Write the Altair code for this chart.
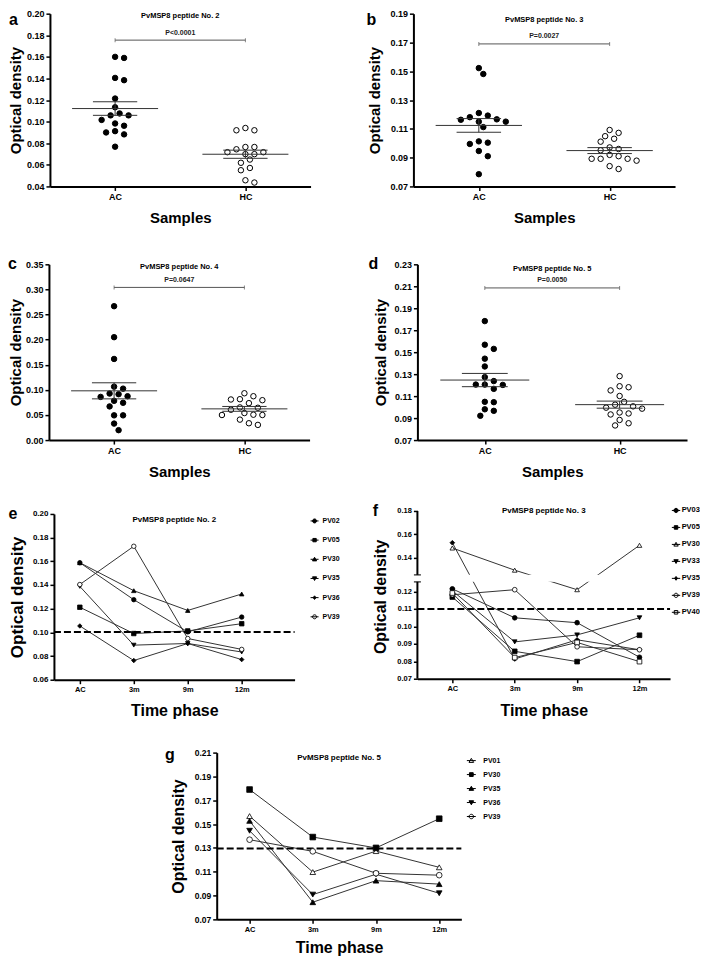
import altair as alt
import pandas as pd
import numpy as np

FONT = "Liberation Sans"

# ---------------- data ----------------
groups = ["AC", "HC"]
time_labels = ["AC", "3m", "9m", "12m"]

a_ac = [0.160, 0.159, 0.1405, 0.1384, 0.1214, 0.1133, 0.1076, 0.1058, 0.1058, 0.1016, 0.0983, 0.0962, 0.0912, 0.0900, 0.0882, 0.0768]
a_hc = [0.0941, 0.0920, 0.0920, 0.0765, 0.0744, 0.0765, 0.0717, 0.0699, 0.0699, 0.0717, 0.0649, 0.0619, 0.0571, 0.0550, 0.0457, 0.0436]
b_ac = [0.1522, 0.1481, 0.1210, 0.1192, 0.1181, 0.1166, 0.1163, 0.1150, 0.1150, 0.1112, 0.1013, 0.1004, 0.0995, 0.0946, 0.0910, 0.0785]
b_hc = [0.1092, 0.1072, 0.1049, 0.1031, 0.1011, 0.0971, 0.0960, 0.0951, 0.0919, 0.0910, 0.0892, 0.0892, 0.0892, 0.0879, 0.0841, 0.0821]
c_ac = [0.2666, 0.2049, 0.1615, 0.1064, 0.1024, 0.0926, 0.0913, 0.0873, 0.0860, 0.0781, 0.0742, 0.0670, 0.0492, 0.0492, 0.0328, 0.0197]
c_hc = [0.0932, 0.0873, 0.0814, 0.0808, 0.0794, 0.0735, 0.0650, 0.0643, 0.0604, 0.0538, 0.0505, 0.0499, 0.0499, 0.0407, 0.0335, 0.0302]
d_ac = [0.1783, 0.1568, 0.1530, 0.1441, 0.1370, 0.1273, 0.1237, 0.1205, 0.1205, 0.1202, 0.1166, 0.1048, 0.1045, 0.0980, 0.0966, 0.0921]
d_hc = [0.1282, 0.1190, 0.1181, 0.1152, 0.1101, 0.1048, 0.1022, 0.1007, 0.0995, 0.0986, 0.0951, 0.0942, 0.0933, 0.0883, 0.0853, 0.0833]

a_yticks = [0.04, 0.06, 0.08, 0.10, 0.12, 0.14, 0.16, 0.18, 0.20]
b_yticks = [0.07, 0.09, 0.11, 0.13, 0.15, 0.17, 0.19]
c_yticks = [0.00, 0.05, 0.10, 0.15, 0.20, 0.25, 0.30, 0.35]
d_yticks = [0.07, 0.09, 0.11, 0.13, 0.15, 0.17, 0.19, 0.21, 0.23]

bracket_levels = [0.1755, 0.169, 0.304, 0.2085]
p_texts = ["P<0.0001", "P=0.0027", "P=0.0647", "P=0.0050"]
peptide_titles = ["PvMSP8 peptide No. 2", "PvMSP8 peptide No. 3",
                  "PvMSP8 peptide No. 4", "PvMSP8 peptide No. 5"]

e_series = ["PV02", "PV05", "PV30", "PV35", "PV36", "PV39"]
e_values = [
    [0.1588, 0.1276, 0.1004, 0.1129],
    [0.1212, 0.0990, 0.1012, 0.1073],
    [0.1588, 0.1352, 0.1185, 0.1324],
    [0.1388, 0.0892, 0.0906, 0.0834],
    [0.1054, 0.0762, 0.0906, 0.0770],
    [0.1404, 0.1727, 0.0948, 0.0856],
]
e_shapes = ["circle", "square", "triangle-up", "triangle-down", "diamond", "circle"]
e_fills = ["black", "black", "black", "black", "black", "white"]
e_yticks = [0.06, 0.08, 0.10, 0.12, 0.14, 0.16, 0.18, 0.20]
e_cutoff = 0.1004

f_series = ["PV03", "PV05", "PV30", "PV33", "PV35", "PV39", "PV40"]
f_values = [
    [0.1215, 0.1049, 0.1021, 0.0823],
    [0.1168, 0.0857, 0.0798, 0.0949],
    [0.1484, 0.1295, 0.1210, 0.1507],
    [0.1204, 0.0911, 0.0951, 0.1049],
    [0.1529, 0.0813, 0.0923, 0.0866],
    [0.1181, 0.1210, 0.0883, 0.0866],
    [0.1191, 0.0821, 0.0908, 0.0798],
]
f_shapes = ["circle", "square", "triangle-up", "triangle-down", "diamond", "circle", "square"]
f_fills = ["black", "black", "white", "black", "black", "white", "white"]
f_yticks = [0.07, 0.08, 0.09, 0.10, 0.11, 0.12, 0.14, 0.16, 0.18]
f_cutoff = 0.11
f_break = [0.1255, 0.12551]

g_series = ["PV01", "PV30", "PV35", "PV36", "PV39"]
g_values = [
    [0.1567, 0.1097, 0.1273, 0.1137],
    [0.1790, 0.1391, 0.1300, 0.1545],
    [0.1527, 0.0844, 0.1025, 0.0996],
    [0.1444, 0.0908, 0.1079, 0.0919],
    [0.1369, 0.1271, 0.1087, 0.1071],
]
g_shapes = ["triangle-up", "square", "triangle-up", "triangle-down", "circle"]
g_fills = ["white", "black", "black", "black", "white"]
g_yticks = [0.07, 0.09, 0.11, 0.13, 0.15, 0.17, 0.19, 0.21]
g_cutoff = 0.1295

line_titles = ["PvMSP8 peptide No. 2", "PvMSP8 peptide No. 3", "PvMSP8 peptide No. 5"]

# legend symbols: marker with a short line through it
LEG_PATH = {
    "circle": "M-1,0L1,0M0.5,0A0.5,0.5,0,1,1,-0.5,0A0.5,0.5,0,1,1,0.5,0Z",
    "square": "M-1,0L1,0M-0.42,-0.42L0.42,-0.42L0.42,0.42L-0.42,0.42Z",
    "triangle-up": "M-1,0L1,0M0,-0.5L0.52,0.4L-0.52,0.4Z",
    "triangle-down": "M-1,0L1,0M0,0.5L0.52,-0.4L-0.52,-0.4Z",
    "diamond": "M-1,0L1,0M0,-0.45L0.35,0L0,0.45L-0.35,0Z",
}


# ---------------- helpers ----------------
def axis_style(label_fs):
    return dict(grid=False, domainColor="black", domainWidth=2, tickColor="black",
                tickWidth=1.5, tickSize=4, labelColor="black", labelFont=FONT,
                labelFontWeight="bold", labelFontSize=label_fs, labelPadding=2,
                labelFlush=False, labelOverlap=False, titleFont=FONT,
                titleFontWeight="bold", titleColor="black")


def txt(text, x, y, size, align="center"):
    return alt.Chart(pd.DataFrame({"t": [text]})).mark_text(
        align=align, baseline="middle", fontSize=size, font=FONT,
        fontWeight="bold", color="black"
    ).encode(x=alt.value(x), y=alt.value(y), text="t:N")


def frame(L, T, B, W, H):
    return alt.Chart(pd.DataFrame({"z": [0]})).mark_rect(opacity=0).encode(
        x=alt.value(-L), x2=alt.value(W), y=alt.value(-T), y2=alt.value(H + B))


def spacer(w):
    return alt.Chart(pd.DataFrame({"z": [0]})).mark_point(opacity=0, size=1).encode(
        x=alt.value(0), y=alt.value(0)).properties(width=w, height=1)


def swarm(vals, lo, hi, H, step=4.5, diam=7.0):
    n = len(vals)
    ys = [(v - lo) / (hi - lo) * H for v in vals]
    order = sorted(range(n), key=lambda i: -vals[i])
    cands = [0.0]
    for j in range(1, 14):
        cands += [j * step, -j * step]
    placed, offs = [], [0.0] * n
    for i in order:
        chosen = cands[-1]
        for c in cands:
            if all((c - px) ** 2 + (ys[i] - py) ** 2 >= diam ** 2 for px, py in placed):
                chosen = c
                break
        offs[i] = chosen
        placed.append((chosen, ys[i]))
    return offs


def scatter_panel(letter, title, ptxt, ac, hc, ylo, yhi, yticks, by,
                  W, H, L, T, B, ytx, yfs, xty, lxy, title_y):
    unit = W / 2.0
    rows = []
    for gi, vals in enumerate([ac, hc]):
        offs = swarm(vals, ylo, yhi, H)
        for v, o in zip(vals, offs):
            rows.append({"g": groups[gi], "x": gi + 1 + o / unit, "v": v})
    pts = pd.DataFrame(rows)
    summ = []
    for gi, vals in enumerate([ac, hc]):
        arr = np.array(vals)
        m = arr.mean()
        s = arr.std(ddof=1) / np.sqrt(len(arr))
        cx = gi + 1
        summ.append({"x": cx, "v": m, "lo": m - s, "hi": m + s,
                     "xl": cx - 0.33, "xr": cx + 0.33, "cl": cx - 0.17, "cr": cx + 0.17})
    summ = pd.DataFrame(summ)
    br = pd.DataFrame({"x": [1], "x2": [2], "xm": [1.5], "v": [by], "p": [ptxt]})
    brt = pd.DataFrame({"x": [1, 2], "v": [by, by]})

    xs = alt.Scale(domain=[0.5, 2.5], nice=False, zero=False)
    ys = alt.Scale(domain=[ylo, yhi], nice=False, zero=False)
    lab = "[" + ",".join("'%s'" % g for g in groups) + "][datum.value-1]"
    xaxis = alt.Axis(values=[1, 2], labelExpr=lab, title="Samples", titleFontSize=15,
                     titleX=W / 2, titleY=xty, titleAlign="center", titleBaseline="top",
                     **axis_style(9))
    yaxis = alt.Axis(values=yticks, format=".2f", title="Optical density", titleFontSize=yfs,
                     titleX=ytx, titleY=H / 2, titleAngle=270, titleAlign="center",
                     titleBaseline="middle", **axis_style(9))
    X = lambda f: alt.X(f, scale=xs, axis=xaxis)
    Y = lambda f: alt.Y(f, scale=ys, axis=yaxis)

    points = alt.Chart(pts).mark_point(shape="circle", filled=True, stroke="black",
                                       strokeWidth=1, size=30, opacity=1).encode(
        x=X("x:Q"), y=Y("v:Q"),
        fill=alt.Fill("g:N", scale=alt.Scale(domain=groups, range=["black", "white"]), legend=None))
    rc = dict(color="#333333", strokeWidth=1)
    mean = alt.Chart(summ).mark_rule(**rc).encode(x=X("xl:Q"), x2="xr:Q", y=Y("v:Q"))
    vert = alt.Chart(summ).mark_rule(**rc).encode(x=X("x:Q"), y=Y("lo:Q"), y2="hi:Q")
    cap1 = alt.Chart(summ).mark_rule(**rc).encode(x=X("cl:Q"), x2="cr:Q", y=Y("lo:Q"))
    cap2 = alt.Chart(summ).mark_rule(**rc).encode(x=X("cl:Q"), x2="cr:Q", y=Y("hi:Q"))
    brl = alt.Chart(br).mark_rule(color="#555555", strokeWidth=1).encode(
        x=X("x:Q"), x2="x2:Q", y=Y("v:Q"))
    brk = alt.Chart(brt).mark_tick(orient="vertical", size=4, thickness=1, color="#555555").encode(
        x=X("x:Q"), y=Y("v:Q"))
    pt = alt.Chart(br).mark_text(dy=-7.5, fontSize=7, font=FONT, fontWeight="bold",
                                 color="#222222").encode(x=X("xm:Q"), y=Y("v:Q"), text="p:N")
    return alt.layer(points, mean, vert, cap1, cap2, brl, brk, pt,
                     txt(title, W / 2, title_y, 7.5),
                     txt(letter, lxy[0], lxy[1], 16),
                     frame(L, T, B, W, H)).properties(width=W, height=H)


def line_panel(letter, title, series, values, shapes, fills, cutoff, ys, yticks,
               xlo, xhi, W, H, L, T, B, ytx, yfs, yl_fs, xty, lxy, title_y,
               msize, leg, broken=None):
    rows = []
    for s, vals in zip(series, values):
        for t, v in enumerate(vals):
            rows.append({"series": s, "t": t, "v": v})
    df = pd.DataFrame(rows)
    xs = alt.Scale(domain=[xlo, xhi], nice=False, zero=False)
    lab = "[" + ",".join("'%s'" % t for t in time_labels) + "][datum.value]"
    xaxis = alt.Axis(values=[0, 1, 2, 3], labelExpr=lab, title="Time phase", titleFontSize=16,
                     titleX=W / 2, titleY=xty, titleAlign="center", titleBaseline="top",
                     **axis_style(7.5))
    ystyle = axis_style(yl_fs)
    if broken is not None:
        ystyle["domain"] = False
    yaxis = alt.Axis(values=yticks, format=".2f", title="Optical density", titleFontSize=yfs,
                     titleX=ytx, titleY=H / 2, titleAngle=270, titleAlign="center",
                     titleBaseline="middle", **ystyle)
    X = lambda f: alt.X(f, scale=xs, axis=xaxis)
    Y = lambda f: alt.Y(f, scale=ys, axis=yaxis)

    layers = []
    layers.append(alt.Chart(df).mark_line(color="#333333", strokeWidth=1).encode(
        x=X("t:Q"), y=Y("v:Q"), detail="series:N", order="t:Q"))
    if broken is not None:
        band = pd.DataFrame({"t": [xlo], "t2": [xhi], "v": [broken[0]], "v2": [broken[1]]})
        layers.append(alt.Chart(band).mark_rect(color="white").encode(
            x=X("t:Q"), x2="t2:Q", y=Y("v:Q"), y2="v2:Q"))
        seg = pd.DataFrame({"t": [xlo, xlo], "v": [ys.domain[0], broken[1]],
                            "v2": [broken[0], ys.domain[-1]]})
        layers.append(alt.Chart(seg).mark_rule(color="black", strokeWidth=2).encode(
            x=X("t:Q"), y=Y("v:Q"), y2="v2:Q"))
        tk = pd.DataFrame({"t": [xlo, xlo], "v": list(broken)})
        layers.append(alt.Chart(tk).mark_tick(orient="horizontal", size=7, thickness=1.5,
                                              color="black").encode(x=X("t:Q"), y=Y("v:Q")))
    layers.append(alt.Chart(pd.DataFrame({"t": [xlo], "t2": [xhi], "v": [cutoff]})).mark_rule(
        color="black", strokeWidth=2, strokeDash=[7, 3]).encode(x=X("t:Q"), x2="t2:Q", y=Y("v:Q")))
    layers.append(alt.Chart(df).mark_point(filled=True, stroke="black", strokeWidth=0.8,
                                           size=msize, opacity=1).encode(
        x=X("t:Q"), y=Y("v:Q"),
        shape=alt.Shape("series:N", scale=alt.Scale(domain=series, range=shapes), legend=None),
        fill=alt.Fill("series:N", scale=alt.Scale(domain=series, range=fills), legend=None)))
    # hand-made legend: one symbol + one label per series
    one = pd.DataFrame({"z": [0]})
    for i, (s, shp, fl) in enumerate(zip(series, shapes, fills)):
        yy = leg["y"] + i * leg["dy"]
        layers.append(alt.Chart(one).mark_point(
            shape=LEG_PATH[shp], filled=True, fill=fl, stroke="black", strokeWidth=1,
            size=leg["size"], opacity=1).encode(x=alt.value(leg["x"]), y=alt.value(yy)))
        layers.append(txt(s, leg["x"] + leg["off"], yy, leg["fs"], align="left"))
    layers.append(txt(title, W / 2, title_y, 8))
    layers.append(txt(letter, lxy[0], lxy[1], 16))
    layers.append(frame(L, T, B, W, H))
    return alt.layer(*layers).properties(width=W, height=H)


# ---------------- panels ----------------
pa = scatter_panel("a", peptide_titles[0], p_texts[0], a_ac, a_hc, 0.04, 0.20, a_yticks,
                   bracket_levels[0], 261, 173, 42, 5, 70, -34, 15, 24, (-36.5, 6), 2)
pb = scatter_panel("b", peptide_titles[1], p_texts[1], b_ac, b_hc, 0.07, 0.19, b_yticks,
                   bracket_levels[1], 262, 173, 30, 5, 70, -39, 15, 24, (-42, 6), 6)
pc = scatter_panel("c", peptide_titles[2], p_texts[2], c_ac, c_hc, 0.0, 0.35, c_yticks,
                   bracket_levels[2], 261, 176, 41, 8, 62, -33, 15, 24, (-36.5, 0), 3)
pd_ = scatter_panel("d", peptide_titles[3], p_texts[3], d_ac, d_hc, 0.07, 0.23, d_yticks,
                    bracket_levels[3], 270, 176, 30, 8, 62, -36.5, 15, 24, (-44, 0), 5)

e_scale = alt.Scale(domain=[0.06, 0.20], nice=False, zero=False)
pe = line_panel("e", line_titles[0], e_series, e_values, e_shapes, e_fills, e_cutoff,
                e_scale, e_yticks, -0.48, 3.98, 241, 166, 46, 12, 67, -36.5, 17, 8, 23,
                (-41, 0), 6, 20, {"x": 261, "y": 7, "dy": 19.2, "size": 64, "fs": 7, "off": 8})
f_scale = alt.Scale(domain=[0.07, f_break[0], f_break[1], 0.18], range=[165, 68, 61, -3],
                    nice=False, zero=False)
pf = line_panel("f", line_titles[1], f_series, f_values, f_shapes, f_fills, f_cutoff,
                f_scale, f_yticks, -0.56, 3.49, 253, 165, 30, 12, 68, -36.5, 16, 7.5, 24,
                (-42, -3), -3, 22, {"x": 259, "y": -3.5, "dy": 17.0, "size": 70, "fs": 7.5, "off": 5.6},
                broken=f_break)
g_scale = alt.Scale(domain=[0.07, 0.21], nice=False, zero=False)
pg = line_panel("g", line_titles[2], g_series, g_values, g_shapes, g_fills, g_cutoff,
                g_scale, g_yticks, -0.52, 3.35, 245, 167, 30, 6, 30, -38.5, 16, 8.5, 20,
                (-47, 2), 5, 32, {"x": 255, "y": 8, "dy": 14, "size": 80, "fs": 7, "off": 12})

RES = dict(shape="independent", fill="independent")


def row(*cells):
    return alt.concat(*cells, columns=len(cells), spacing=0, bounds="flush",
                      align="none").resolve_scale(**RES)


row1 = row(spacer(1), pa, spacer(103), pb)
row2 = row(pc, spacer(108), pd_)
row3 = row(spacer(5), pe, spacer(123), pf)
row4 = row(spacer(168), pg)

chart = alt.concat(row1, row2, row3, row4, columns=1, spacing=0, align="none").resolve_scale(
    **RES).properties(padding=0).configure(font=FONT).configure_view(strokeWidth=0)

chart.save("out.html", embed_options={"renderer": "svg", "actions": False})
